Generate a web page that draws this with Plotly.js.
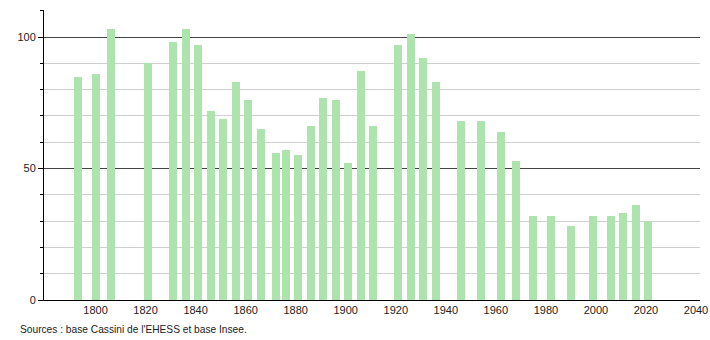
<!DOCTYPE html>
<html>
<head>
<meta charset="utf-8">
<script src="https://cdn.plot.ly/plotly-3.0.1.min.js"></script>
<style>html,body{margin:0;padding:0;background:#fff;}#chart{width:710px;height:340px;}</style>
</head>
<body>
<div id="chart"></div>
<script>
const years = [1793,1800,1806,1821,1831,1836,1841,1846,1851,1856,1861,1866,1872,1876,1881,1886,1891,1896,1901,1906,1911,1921,1926,1931,1936,1946,1954,1962,1968,1975,1982,1990,1999,2006,2011,2016,2021];
const population = [85,86,103,90,98,103,97,72,69,83,76,65,56,57,55,66,77,76,52,87,66,97,101,92,83,68,68,64,53,32,32,28,32,32,33,36,30];
const xTicks = [1800,1820,1840,1860,1880,1900,1920,1940,1960,1980,2000,2020,2040];
const yTicks = [0,50,100];
const sourceText = "Sources : base Cassini de l'EHESS et base Insee.";

const trace = {
  type: 'bar',
  x: years,
  y: population,
  width: 3.2,
  marker: {color: '#ade3ad', line: {width: 0}},
  hoverinfo: 'x+y'
};

const layout = {
  width: 710, height: 340,
  margin: {l: 44, r: 10, t: 10, b: 40},
  paper_bgcolor: '#fff', plot_bgcolor: '#fff',
  font: {family: 'Liberation Sans, Arial, sans-serif', size: 11, color: '#222'},
  showlegend: false,
  bargap: 0,
  xaxis: {
    range: [1779.4, 2041.6],
    tickvals: xTicks,
    ticktext: xTicks.map(String),
    ticks: '',
    showgrid: false,
    zeroline: false,
    showline: true, linecolor: '#000', linewidth: 1,
    tickfont: {size: 11, color: '#222'},
    fixedrange: true
  },
  yaxis: {
    range: [0, 110.3],
    tickvals: yTicks,
    ticks: 'outside', ticklen: 5, tickcolor: '#000', tickwidth: 1,
    showgrid: true, gridcolor: '#444', gridwidth: 1,
    zeroline: false,
    showline: true, linecolor: '#000', linewidth: 1,
    tickfont: {size: 11, color: '#222'},
    minor: {dtick: 10, tick0: 0, ticks: 'outside', ticklen: 3, tickcolor: '#000', showgrid: true, gridcolor: '#cfcfcf', gridwidth: 1},
    fixedrange: true
  },
  annotations: [{
    text: sourceText,
    xref: 'paper', yref: 'paper',
    x: -0.039, y: -0.1,
    xanchor: 'left', yanchor: 'middle',
    showarrow: false,
    font: {size: 10.2, color: '#222'}
  }]
};

Plotly.newPlot('chart', [trace], layout, {displayModeBar: false, staticPlot: true});
</script>
</body>
</html>
